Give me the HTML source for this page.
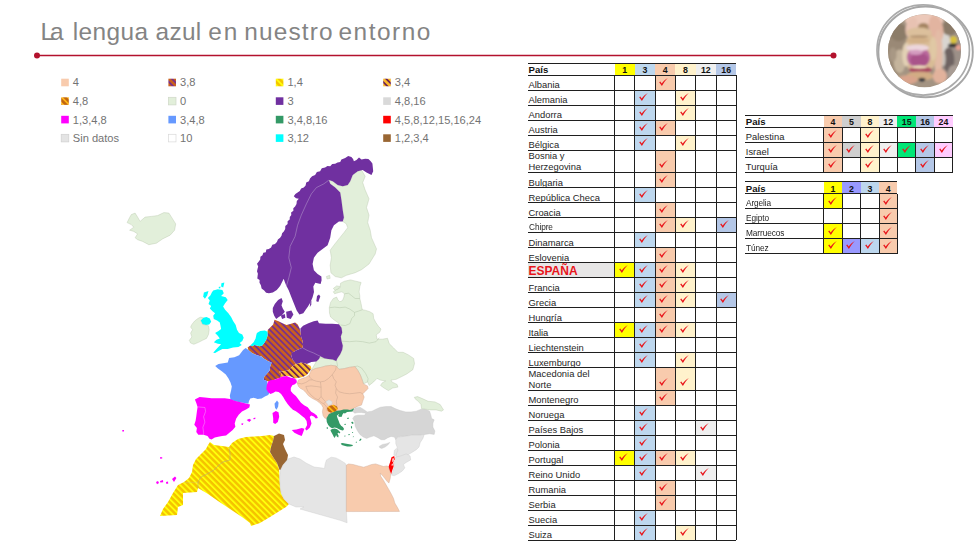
<!DOCTYPE html>
<html><head><meta charset="utf-8"><title>La lengua azul en nuestro entorno</title>
<style>
html,body{margin:0;padding:0;background:#fff;}
body{width:980px;height:551px;position:relative;overflow:hidden;font-family:"Liberation Sans",sans-serif;}
#title{position:absolute;left:0;top:16.9px;font-size:24.4px;line-height:30px;color:#848484;white-space:nowrap;font-weight:400;}
#title span{position:absolute;top:0;}
#bg{position:absolute;left:0;top:0;width:980px;height:551px;}
#bg text{font-family:"Liberation Sans",sans-serif;font-size:11.1px;fill:#737373;}
.tb{position:absolute;font-size:9.4px;color:#262626;}
.tb div{position:absolute;box-sizing:border-box;}
.hc{text-align:center;font-weight:bold;font-size:8.8px;line-height:14.4px;color:#111;}
.hn{font-weight:bold;font-size:9.6px;color:#111;}
.hl{left:0;width:100%;height:1px;background:#1f1f1f;}
.vl{width:1px;background:#1f1f1f;}
.rn{white-space:nowrap;overflow:visible;}
.rn span{position:absolute;left:0;bottom:0.1px;line-height:11px;display:block;}
.rn.dbl span{line-height:10.6px;bottom:0.2px;}
.rn.nar span{bottom:-0.4px;font-size:9.2px;transform:scaleX(0.9);transform-origin:0 50%;letter-spacing:-0.1px;}
.rn.esp span{font-weight:bold;color:#e8151b;font-size:12px;line-height:13px;bottom:-0.2px;}
.ckw{width:9px;height:8px;}
.ck{display:block;}
</style></head><body>
<svg id="bg" viewBox="0 0 980 551">
<defs><pattern id="h38" width="4.33" height="4.33" patternUnits="userSpaceOnUse" patternTransform="rotate(-45)"><rect width="4.33" height="4.33" fill="#c9601f"/><rect width="1.7" height="4.33" fill="#762f8e"/></pattern><pattern id="h14" width="4.33" height="4.33" patternUnits="userSpaceOnUse" patternTransform="rotate(-45)"><rect width="4.33" height="4.33" fill="#f4c300"/><rect width="1.85" height="4.33" fill="#ffff0a"/></pattern><pattern id="h34" width="4.33" height="4.33" patternUnits="userSpaceOnUse" patternTransform="rotate(-45)"><rect width="4.33" height="4.33" fill="#fbb829"/><rect width="1.65" height="4.33" fill="#6a1f55"/></pattern><pattern id="h48" width="4.33" height="4.33" patternUnits="userSpaceOnUse" patternTransform="rotate(-45)"><rect width="4.33" height="4.33" fill="#c2650f"/><rect width="1.7" height="4.33" fill="#fdb515"/></pattern></defs>
<g id="map">
<path d="M127.1,222.6 L129.6,217.6 L131.3,214.6 L135.1,213.1 L137.6,217.1 L140.1,221.4 L145.1,217.1 L151.4,216.4 L157.6,215.6 L163.9,212.6 L168.9,213.1 L172.6,218.9 L175.7,223.9 L174.6,230.2 L170.1,235.2 L162.6,238.9 L156.4,243.2 L148.8,244.7 L142.6,241.4 L137.6,239.7 L135.1,237.7 L137.6,233.9 L133.8,231.4 L129.6,230.2 L133.8,227.2 L131.3,224.6 Z" fill="#e2efda" stroke="#b5c6aa" stroke-width="0.4" stroke-linejoin="round"/>
<path d="M328.9,180.1 L332.7,181.3 L337.7,185.1 L342.7,186.3 L347.7,185.1 L350.2,181.3 L352.7,175.1 L357.7,171.3 L361.5,170.0 L365.2,176.3 L362.7,182.6 L365.2,190.1 L369.0,198.8 L366.5,207.6 L369.0,215.1 L367.7,222.6 L370.2,230.2 L371.5,237.7 L376.5,248.9 L375.2,254.0 L369.0,264.0 L361.5,269.7 L355.2,272.7 L346.4,275.3 L341.4,277.8 L335.2,276.5 L330.9,272.7 L330.2,265.2 L331.4,257.7 L330.2,250.2 L333.9,245.2 L338.9,238.9 L343.9,232.7 L347.7,227.7 L346.4,223.9 L342.7,221.4 L343.9,217.6 L342.7,210.1 L341.4,200.1 L340.2,192.6 L335.2,187.6 L330.2,183.8 Z" fill="#e2efda" stroke="#b5c6aa" stroke-width="0.4" stroke-linejoin="round"/>
<path d="M326.4,276.5 L329.6,275.3 L330.2,278.3 L327.1,279.0 Z" fill="#e2efda" stroke="#b5c6aa" stroke-width="0.4" stroke-linejoin="round"/>
<path d="M372.7,166.3 L372.4,163.5 L370.7,161.3 L368.4,159.0 L365.2,158.8 L361.5,159.5 L359.0,157.5 L356.5,160.0 L353.9,161.3 L353.1,158.9 L351.4,157.0 L348.2,156.0 L345.2,158.0 L341.4,159.5 L340.2,162.0 L337.5,162.4 L335.2,163.8 L332.2,164.1 L330.2,166.3 L327.4,165.9 L325.1,167.5 L321.8,168.3 L320.1,171.3 L316.9,172.1 L315.1,175.1 L312.1,176.3 L310.0,178.5 L308.9,181.3 L306.2,182.6 L305.6,185.5 L303.8,187.6 L301.1,188.4 L299.8,191.1 L297.6,192.6 L295.4,194.1 L293.8,196.3 L296.0,198.2 L298.8,198.8 L296.8,201.0 L296.5,203.9 L295.1,206.4 L293.3,208.2 L293.4,210.8 L291.1,212.5 L291.3,215.1 L289.8,217.1 L289.7,219.6 L287.6,221.3 L287.6,223.9 L285.3,225.9 L285.2,229.0 L283.8,231.4 L282.1,233.2 L281.5,235.7 L280.1,237.7 L277.9,239.4 L276.9,242.0 L275.0,243.9 L272.3,244.7 L271.1,247.6 L268.8,248.9 L266.3,249.6 L265.8,252.2 L263.3,252.8 L262.5,255.2 L260.4,256.8 L260.2,259.5 L258.8,261.5 L257.0,263.8 L258.2,266.5 L257.5,269.0 L257.0,271.3 L257.9,273.7 L257.6,276.0 L257.3,278.6 L259.6,280.0 L259.5,282.8 L260.9,285.3 L261.6,288.5 L264.2,290.6 L266.1,292.7 L268.9,293.3 L272.8,292.6 L276.8,289.9 L280.1,286.0 L282.1,282.0 L283.7,278.7 L284.8,282.0 L286.1,285.3 L288.8,290.6 L291.4,297.2 L294.1,303.9 L296.7,310.5 L299.4,314.5 L303.3,313.2 L306.0,309.2 L308.0,306.5 L310.6,301.9 L312.6,297.2 L314.0,291.9 L313.3,286.6 L315.3,282.7 L320.6,284.0 L321.6,280.3 L321.4,276.5 L317.6,274.0 L313.9,270.2 L312.6,264.0 L313.9,257.7 L317.6,252.7 L322.6,248.9 L327.6,245.2 L330.2,237.7 L331.4,230.2 L333.9,225.2 L338.9,221.4 L342.7,221.4 L343.9,217.6 L342.7,210.1 L341.4,200.1 L340.2,192.6 L335.2,187.6 L330.2,183.8 L328.9,180.1 L332.7,181.3 L337.7,185.1 L342.7,186.3 L347.7,185.1 L350.2,181.3 L352.7,175.1 L357.7,171.3 L362.7,170.0 L366.5,172.5 L371.5,175.1 L373.2,171.3 Z" fill="#7030a0"/>
<path d="M328.9,180.1 L323.9,183.8 L316.4,187.6 L311.4,193.8 L306.4,203.9 L301.3,215.1 L297.6,225.2 L295.1,236.4 L290.1,246.4 L288.8,257.7 L291.3,267.7 L288.8,277.8 L286.3,286.5" fill="none" stroke="#b9a0cf" stroke-width="0.5" stroke-linejoin="round"/>
<path d="M317.0,296.0 L319.0,294.6 L320.3,296.6 L318.3,301.9 L316.3,301.3 Z" fill="#7030a0"/>
<path d="M310.3,302.6 L311.4,300.6 L311.3,304.6 L309.7,307.2 Z" fill="#7030a0"/>
<path d="M274.8,303.9 L278.1,299.9 L281.5,297.9 L282.8,301.2 L281.5,305.2 L282.8,308.5 L284.8,311.8 L282.1,315.1 L278.8,317.1 L276.2,319.1 L274.2,315.8 L272.8,311.8 L272.8,307.9 Z" fill="#7030a0"/>
<path d="M280.8,315.5 L284.8,314.1 L285.4,317.8 L282.1,319.1 Z" fill="#7030a0"/>
<path d="M286.1,311.8 L291.4,310.5 L293.4,314.5 L290.7,319.1 L286.8,317.8 Z" fill="#7030a0"/>
<path d="M213.2,290.6 L217.8,289.3 L222.4,289.9 L223.8,293.3 L221.1,295.9 L225.8,297.2 L227.7,299.9 L225.1,303.2 L223.1,306.5 L225.1,309.8 L228.4,313.2 L231.1,317.1 L233.1,321.1 L235.7,325.1 L237.0,329.7 L239.0,333.1 L242.3,334.4 L243.7,337.7 L242.3,341.0 L239.7,343.0 L241.7,345.0 L238.4,347.0 L233.1,347.6 L227.7,349.0 L222.4,349.0 L218.5,351.0 L215.1,352.9 L213.2,352.7 L216.5,349.0 L219.1,346.3 L221.1,344.3 L217.8,343.7 L213.8,342.3 L216.5,339.7 L219.8,338.4 L217.8,335.7 L215.1,333.1 L218.5,331.1 L221.1,329.1 L220.5,325.8 L219.8,322.4 L217.1,320.5 L213.8,319.1 L213.2,315.8 L215.1,313.2 L212.5,311.2 L209.8,308.5 L211.2,305.9 L208.5,303.9 L209.8,300.6 L207.9,297.9 L210.5,295.3 L211.8,292.6 Z" fill="#00ffff"/>
<path d="M200.6,320.5 L203.2,317.8 L206.5,316.9 L209.8,318.5 L211.2,321.8 L209.2,324.4 L205.9,325.1 L202.5,324.4 Z" fill="#00ffff"/>
<path d="M203.9,292.6 L208.5,290.9 L207.2,295.6 L204.9,298.8 L203.2,296.6 Z" fill="#00ffff"/>
<path d="M221.4,283.3 L224.4,282.4 L223.2,287.4 L221.1,286.6 Z" fill="#00ffff"/>
<path d="M218.7,286.9 L220.5,286.6 L220.3,288.2 L218.9,288.4 Z" fill="#00ffff"/>
<path d="M191.9,324.4 L194.6,321.1 L197.9,318.5 L200.6,317.1 L203.2,317.8 L200.6,320.5 L202.5,324.4 L205.9,325.1 L208.5,325.8 L209.2,329.7 L208.5,334.4 L206.5,338.4 L202.5,340.3 L198.6,342.3 L193.9,344.3 L190.6,343.0 L189.3,340.3 L191.9,337.0 L190.6,333.1 L192.6,329.7 L190.6,327.1 Z" fill="#e2efda" stroke="#b5c6aa" stroke-width="0.4" stroke-linejoin="round"/>
<path d="M340.6,283.2 L344.5,281.2 L350.5,279.9 L355.8,281.2 L361.1,282.5 L359.8,286.5 L359.1,291.8 L359.8,295.8 L359.8,298.5 L361.1,303.8 L361.8,307.7 L362.4,309.7 L365.8,310.4 L369.7,311.7 L373.1,313.7 L373.7,318.4 L375.7,322.3 L378.4,326.3 L381.0,329.0 L379.7,332.3 L376.2,334.8 L377.0,339.2 L382.3,339.2 L387.5,338.3 L389.2,343.6 L393.6,347.9 L397.9,352.3 L403.2,352.3 L408.4,354.9 L413.6,358.4 L414.5,363.6 L412.8,369.7 L406.7,374.0 L401.4,376.7 L396.2,379.3 L391.0,380.1 L391.8,381.9 L397.1,384.5 L397.9,387.1 L392.7,388.0 L388.4,390.6 L384.0,388.0 L380.5,385.4 L382.3,382.8 L385.7,381.0 L380.5,380.1 L377.0,378.4 L373.6,381.9 L369.2,385.4 L367.5,381.9 L363.5,383.9 L362.2,379.9 L360.2,374.6 L357.5,369.9 L354.9,366.6 L349.6,367.3 L344.3,368.6 L339.0,369.3 L336.3,366.0 L331.0,365.3 L325.7,366.0 L321.1,367.3 L315.1,368.6 L311.1,370.6 L316.3,361.6 L319.0,359.0 L320.3,356.3 L324.3,358.3 L328.2,359.0 L332.9,359.6 L336.2,361.0 L337.5,358.3 L340.2,354.3 L342.2,349.7 L342.8,345.7 L341.5,341.1 L340.8,336.4 L342.2,332.4 L341.5,327.8 L338.9,324.2 L338.6,323.0 L334.6,320.3 L330.6,317.0 L329.5,313.1 L329.3,307.7 L330.6,302.4 L333.3,298.5 L336.6,297.1 L337.9,299.8 L339.9,301.8 L342.5,300.5 L343.9,297.1 L344.5,293.8 L341.9,291.8 L338.6,292.5 L334.6,293.8 L333.3,291.8 L335.9,289.8 L339.9,287.9 Z" fill="#e2efda" stroke="#b5c6aa" stroke-width="0.4" stroke-linejoin="round"/>
<path d="M344.5,293.8 L348.5,293.2 L351.8,295.8 L355.1,298.5 L359.8,298.5" fill="none" stroke="#b5c6aa" stroke-width="0.5" stroke-linejoin="round"/>
<path d="M329.5,307.7 L334.6,307.1 L339.9,307.7 L345.2,307.1 L349.8,309.1 L354.5,312.4 L358.5,311.1 L362.4,309.7" fill="none" stroke="#b5c6aa" stroke-width="0.5" stroke-linejoin="round"/>
<path d="M340.6,325.0 L345.2,325.6 L349.8,323.7 L351.8,318.4 L354.5,315.7 L354.5,312.4" fill="none" stroke="#b5c6aa" stroke-width="0.5" stroke-linejoin="round"/>
<path d="M341.5,341.1 L349.5,341.7 L356.1,341.1 L362.7,341.7 L369.4,343.1 L376.0,341.7 L379.3,337.7" fill="none" stroke="#b5c6aa" stroke-width="0.5" stroke-linejoin="round"/>
<path d="M354.9,366.6 L357.5,366.0 L361.5,368.0 L365.5,373.3 L368.1,378.6 L367.5,381.9" fill="none" stroke="#b5c6aa" stroke-width="0.5" stroke-linejoin="round"/>
<path d="M315.2,361.4 L319.0,357.7 L322.7,358.2 L330.2,358.9 L336.5,360.7 L337.7,366.4" fill="none" stroke="#b5c6aa" stroke-width="0.5" stroke-linejoin="round"/>
<path d="M333.3,288.5 L336.6,285.9 L339.9,286.5 L338.6,288.5 L335.3,290.2 Z" fill="#e2efda" stroke="#b5c6aa" stroke-width="0.4" stroke-linejoin="round"/>
<path d="M300.4,328.5 L303.1,325.8 L308.4,323.2 L313.7,321.2 L317.6,320.5 L319.0,323.2 L325.6,323.8 L332.2,323.8 L338.9,324.2 L341.5,327.8 L342.2,332.4 L340.8,336.4 L341.5,341.1 L342.8,345.7 L342.2,349.7 L340.2,354.3 L337.5,358.3 L336.2,361.0 L332.9,359.6 L328.2,359.0 L324.3,358.3 L320.3,356.3 L319.0,359.0 L316.3,361.6 L311.4,361.9 L306.7,363.9 L301.4,362.5 L296.1,363.9 L292.8,359.9 L291.5,356.6 L290.8,353.3 L293.8,351.7 L297.7,349.7 L302.4,347.7 L303.1,344.4 L302.4,340.4 L301.1,336.4 L300.4,332.4 Z" fill="#7030a0"/>
<path d="M302.4,347.7 L307.0,350.3 L310.3,351.7 L313.7,353.0 L317.6,355.0 L320.3,356.3" fill="none" stroke="#b9a0cf" stroke-width="0.5" stroke-linejoin="round"/>
<path d="M274.5,319.8 L278.5,321.2 L282.5,323.2 L286.5,325.1 L291.1,323.8 L295.1,322.5 L297.7,324.5 L299.7,328.5 L300.4,332.4 L301.1,336.4 L302.4,340.4 L303.1,344.4 L302.4,347.7 L297.7,349.7 L293.8,351.7 L291.1,353.7 L291.5,356.6 L292.8,359.9 L296.1,363.9 L292.8,365.9 L288.1,370.5 L282.8,371.2 L278.9,371.8 L281.5,373.8 L280.2,377.8 L276.2,379.1 L272.9,380.5 L269.6,381.8 L266.9,381.1 L263.6,379.8 L264.3,376.5 L266.9,373.8 L269.6,370.5 L270.2,366.5 L271.6,362.5 L268.2,361.2 L263.6,358.6 L261.6,356.6 L257.0,355.3 L252.3,353.3 L248.4,349.9 L247.6,347.6 L250.3,345.6 L252.3,346.3 L254.3,345.0 L256.9,345.6 L259.6,346.3 L262.2,345.6 L264.2,343.0 L266.2,339.7 L267.5,335.7 L267.5,331.7 L267.9,329.8 L269.9,327.8 L273.2,324.5 Z" fill="url(#h38)"/>
<path d="M256.9,333.1 L260.2,331.1 L264.9,330.4 L267.5,331.7 L267.5,335.7 L266.2,339.7 L264.2,343.0 L262.2,345.6 L259.6,346.3 L256.9,345.6 L254.3,345.0 L252.3,346.3 L250.3,345.6 L253.6,342.3 L255.6,338.4 L256.3,335.0 Z" fill="#00ffff"/>
<path d="M278.9,371.8 L282.8,371.2 L288.1,370.5 L292.8,365.9 L296.1,363.9 L301.4,362.5 L306.7,363.9 L310.7,365.9 L311.4,368.5 L309.4,371.8 L306.7,375.1 L302.7,377.1 L298.8,377.8 L294.8,378.5 L290.8,376.5 L286.8,375.8 L282.8,376.5 L280.2,377.8 L281.5,373.8 Z" fill="url(#h34)"/>
<path d="M215.2,365.9 L218.5,363.9 L223.2,363.2 L227.8,362.5 L229.1,357.9 L234.4,357.2 L239.1,355.3 L243.1,349.9 L245.7,348.0 L248.4,349.9 L252.3,353.3 L257.0,355.3 L261.6,356.6 L263.6,358.6 L268.2,361.2 L271.6,362.5 L270.2,366.5 L269.6,370.5 L266.9,373.8 L264.3,376.5 L263.6,379.8 L266.9,381.1 L267.6,385.1 L266.9,389.1 L269.6,392.4 L268.2,395.0 L264.9,396.4 L261.6,398.4 L257.6,399.0 L253.7,397.7 L250.3,398.4 L249.0,401.0 L248.4,403.7 L244.4,403.0 L239.1,402.3 L234.4,401.0 L230.5,399.7 L229.8,395.7 L231.1,390.4 L231.8,386.4 L230.5,382.4 L228.5,378.5 L225.8,374.5 L221.8,371.2 L217.9,368.5 Z" fill="#6699ff"/>
<path d="M274.5,403.7 L277.0,400.6 L278.6,402.7 L278.1,406.7 L276.5,409.8 L275.0,407.8 Z" fill="#6699ff"/>
<path d="M311.1,370.6 L315.1,368.6 L321.1,367.3 L325.7,366.0 L331.0,365.3 L336.3,366.0 L339.0,369.3 L344.3,368.6 L349.6,367.3 L354.9,366.6 L357.5,369.9 L360.2,374.6 L362.2,379.9 L363.5,383.9 L367.5,385.9 L368.1,388.5 L365.5,391.2 L362.8,393.8 L364.2,397.1 L362.8,401.1 L361.5,405.1 L357.5,406.4 L353.6,408.4 L349.6,409.7 L344.3,410.1 L340.3,410.8 L336.3,412.1 L332.3,413.4 L329.0,415.4 L327.0,417.7 L325.0,418.4 L323.1,415.7 L322.4,411.7 L323.1,407.7 L321.7,405.1 L319.1,402.4 L316.4,400.5 L312.4,398.5 L308.5,395.8 L305.8,392.5 L303.2,389.8 L300.5,388.5 L298.5,386.5 L297.2,383.2 L298.5,379.9 L301.8,378.6 L305.8,377.2 L309.1,375.3 Z" fill="#f8cbad" stroke="#c9a58f" stroke-width="0.4" stroke-linejoin="round"/>
<path d="M309.1,375.3 L309.8,377.2 L312.4,379.9 L316.4,381.2 L320.4,381.9 L324.4,381.2 L328.4,378.6 L332.3,374.6 L335.6,369.9 L336.3,366.0" fill="none" stroke="#c9a58f" stroke-width="0.5" stroke-linejoin="round"/>
<path d="M332.3,374.6 L333.7,378.6 L336.3,381.9 L335.0,385.2 L336.3,388.5 L339.0,391.8 L344.3,393.2 L349.6,393.8 L354.9,393.2 L360.2,392.5 L362.8,393.8" fill="none" stroke="#c9a58f" stroke-width="0.5" stroke-linejoin="round"/>
<path d="M297.2,383.2 L301.8,383.9 L305.8,382.5 L309.8,379.9 L312.4,379.9" fill="none" stroke="#c9a58f" stroke-width="0.5" stroke-linejoin="round"/>
<path d="M305.8,386.5 L311.1,385.9 L316.4,386.5 L321.1,387.2 L320.4,381.9" fill="none" stroke="#c9a58f" stroke-width="0.5" stroke-linejoin="round"/>
<path d="M305.8,386.5 L307.8,391.2 L311.1,395.1 L315.1,398.5 L318.4,399.8 L321.1,396.5 L321.1,391.8 L321.1,387.2" fill="none" stroke="#c9a58f" stroke-width="0.5" stroke-linejoin="round"/>
<path d="M318.4,399.8 L321.1,402.4 L323.7,403.8 L325.7,401.8 L323.1,399.1 L321.1,396.5" fill="none" stroke="#c9a58f" stroke-width="0.5" stroke-linejoin="round"/>
<path d="M336.3,388.5 L335.6,393.2 L337.6,397.1 L336.3,401.1 L337.0,406.4" fill="none" stroke="#c9a58f" stroke-width="0.5" stroke-linejoin="round"/>
<path d="M323.7,403.8 L325.7,405.8 L327.0,407.7 L327.0,411.1" fill="none" stroke="#c9a58f" stroke-width="0.5" stroke-linejoin="round"/>
<path d="M325.7,401.8 L329.0,399.8 L332.3,401.8 L331.7,404.4 L328.4,405.4 Z" fill="#e5e5e5" stroke="#c9c9c9" stroke-width="0.4" stroke-linejoin="round"/>
<path d="M327.0,408.0 L329.0,405.9 L333.7,404.8 L337.0,406.4 L337.9,409.1 L335.3,411.7 L331.0,412.8 L327.8,411.2 Z" fill="url(#h48)"/>
<path d="M267.9,381.7 L270.4,380.2 L274.5,379.7 L278.6,378.2 L282.7,376.6 L286.7,376.1 L290.8,377.7 L293.9,378.2 L296.4,379.7 L296.9,382.2 L294.9,384.3 L292.3,385.3 L290.8,387.9 L290.8,390.9 L292.9,393.5 L295.9,396.0 L298.5,399.6 L301.0,402.7 L304.1,405.2 L307.7,407.2 L309.2,409.3 L311.2,411.8 L314.3,413.4 L316.8,415.4 L317.9,418.0 L315.8,418.6 L313.8,416.4 L311.2,415.4 L309.7,416.9 L310.7,420.0 L311.5,423.6 L309.7,427.7 L306.6,430.4 L305.1,429.0 L307.1,425.1 L306.6,421.0 L304.6,418.0 L302.0,415.9 L299.0,413.4 L295.9,411.3 L292.9,409.8 L290.3,407.2 L287.8,404.2 L285.2,400.6 L283.2,397.0 L281.1,394.0 L278.6,391.9 L275.5,391.4 L273.0,393.0 L270.4,394.0 L267.9,391.9 L266.3,388.9 L266.8,385.3 Z" fill="#ff00ff"/>
<path d="M272.5,412.9 L275.8,410.9 L278.5,412.2 L279.2,416.8 L277.8,422.1 L275.2,424.1 L273.2,422.8 L273.2,418.2 Z" fill="#ff00ff"/>
<path d="M291.8,430.1 L296.4,429.4 L301.7,428.1 L304.4,428.8 L303.0,432.7 L301.7,436.1 L298.4,434.7 L294.4,432.7 Z" fill="#ff00ff"/>
<path d="M194.9,399.6 L199.6,396.9 L204.9,397.6 L211.5,398.3 L218.2,398.3 L224.8,398.3 L230.1,398.9 L235.4,400.9 L240.7,402.2 L246.0,403.6 L250.0,404.6 L249.3,407.5 L246.0,409.5 L242.0,411.5 L238.7,414.8 L236.1,418.8 L234.7,423.5 L235.4,426.8 L232.7,430.1 L229.4,432.7 L226.1,435.4 L222.1,436.1 L218.2,436.7 L214.8,437.4 L211.5,439.4 L209.5,438.7 L207.5,436.1 L203.6,434.7 L198.3,434.7 L196.3,432.1 L196.9,428.1 L194.3,424.8 L195.6,420.8 L196.3,416.2 L196.9,411.5 L197.6,406.9 L196.3,402.9 Z" fill="#ff00ff"/>
<path d="M197.6,406.9 L204.9,407.5 L205.6,411.5 L203.6,416.8 L204.9,422.1 L202.9,427.4 L203.6,432.7 L203.6,434.7" fill="none" stroke="#f2a6f2" stroke-width="0.5" stroke-linejoin="round"/>
<path d="M246.7,420.1 L249.3,418.8 L251.3,420.1 L249.3,422.1 Z" fill="#ff00ff"/>
<path d="M253.3,418.2 L255.3,417.5 L255.4,419.0 L253.6,419.2 Z" fill="#ff00ff"/>
<path d="M241.4,423.5 L243.4,423.2 L242.8,424.9 L241.5,424.8 Z" fill="#ff00ff"/>
<path d="M156.0,482.0 L158.0,481.0 L159.0,483.0 L157.0,484.2 Z" fill="#ff00ff"/>
<path d="M160.0,481.0 L163.0,480.0 L163.2,482.2 L160.4,482.6 Z" fill="#ff00ff"/>
<path d="M166.0,482.0 L168.0,481.6 L168.2,483.8 L166.2,483.8 Z" fill="#ff00ff"/>
<path d="M172.0,479.0 L175.0,476.6 L176.4,478.0 L174.0,482.0 Z" fill="#ff00ff"/>
<path d="M160.0,457.2 L162.2,457.2 L162.2,458.6 L160.0,458.6 Z" fill="#ff00ff"/>
<path d="M122.3,430.1 L124.0,430.1 L124.0,431.6 L122.3,431.6 Z" fill="#ff00ff"/>
<path d="M210.0,442.0 L214.0,445.0 L222.0,446.0 L229.0,447.0 L232.0,443.0 L238.0,439.0 L246.0,437.0 L254.0,436.6 L262.0,436.0 L270.0,435.0 L274.0,436.0 L273.0,441.0 L271.0,447.0 L270.0,452.0 L273.0,457.0 L277.0,463.0 L279.0,469.0 L279.6,477.0 L280.0,485.0 L281.0,493.0 L284.0,499.0 L289.0,504.0 L286.0,507.0 L278.0,512.0 L270.0,517.0 L260.0,523.0 L251.0,526.0 L250.0,523.0 L242.0,517.0 L230.0,509.0 L218.0,501.0 L208.0,494.0 L198.0,488.0 L197.0,492.0 L183.0,493.0 L183.0,505.0 L178.0,507.0 L177.0,515.0 L160.0,516.0 L163.0,509.0 L168.0,502.0 L173.0,493.0 L178.0,485.0 L184.0,482.0 L189.0,478.0 L192.0,472.0 L193.0,465.0 L196.0,459.0 L201.0,454.0 L206.0,449.0 L208.0,445.0 Z" fill="url(#h14)"/>
<path d="M229.0,447.0 L230.0,453.0 L230.0,460.0 L223.0,462.0 L219.0,465.0 L214.0,470.0 L207.0,474.0 L201.0,477.0 L198.0,482.0 L198.0,488.0" fill="none" stroke="#b5a777" stroke-width="0.6" stroke-linejoin="round"/>
<path d="M184.0,482.4 L198.0,482.4" fill="none" stroke="#d9c46a" stroke-width="0.4" stroke-linejoin="round"/>
<path d="M274.0,436.0 L279.0,433.4 L284.0,435.0 L285.0,440.0 L283.0,444.0 L285.0,449.0 L288.0,455.0 L287.0,461.0 L283.0,465.0 L281.0,470.0 L279.6,470.0 L277.0,463.0 L273.0,457.0 L270.0,452.0 L271.0,447.0 L273.0,441.0 Z" fill="#996633"/>
<path d="M280.4,470.0 L283.0,465.0 L288.0,459.0 L294.0,457.0 L300.0,459.0 L306.0,463.0 L314.0,467.0 L322.0,468.0 L324.5,468.5 L325.2,463.9 L326.5,459.9 L331.2,457.2 L335.8,457.9 L339.8,459.9 L345.1,463.2 L346.4,465.2 L346.4,511.6 L347.1,522.8 L340.1,520.3 L300.0,509.0 L304.0,507.0 L296.0,507.0 L289.0,504.0 L284.0,499.0 L281.0,493.0 L280.0,485.0 L279.6,477.0 Z" fill="#e5e5e5" stroke="#c9c9c9" stroke-width="0.4" stroke-linejoin="round"/>
<path d="M346.4,465.2 L348.4,463.9 L353.1,464.5 L358.4,465.9 L363.7,467.2 L367.6,465.9 L371.6,464.5 L375.6,463.9 L379.6,465.2 L383.6,466.5 L386.9,465.9 L388.2,466.5 L390.8,473.8 L390.2,478.5 L388.9,483.1 L386.9,481.1 L384.9,478.5 L382.2,475.1 L380.2,473.2 L380.9,476.5 L383.6,480.5 L386.2,485.1 L388.9,489.7 L391.5,494.4 L393.5,498.4 L394.8,503.0 L397.5,507.6 L399.5,511.4 L346.4,511.6 Z" fill="#f8cbad" stroke="#c9a58f" stroke-width="0.4" stroke-linejoin="round"/>
<path d="M326.4,418.6 L327.5,416.4 L328.9,413.9 L331.4,412.9 L334.3,411.8 L337.1,410.7 L340.0,410.4 L343.6,409.6 L347.1,409.6 L350.0,410.0 L352.1,409.3 L353.6,408.2 L353.9,410.0 L352.5,411.4 L350.0,411.8 L347.1,412.1 L345.0,413.6 L343.6,412.9 L342.5,414.6 L341.8,416.4 L340.9,417.0 L340.0,415.4 L338.6,414.3 L336.8,415.7 L337.5,417.9 L338.6,420.7 L339.6,423.6 L341.1,425.7 L342.9,427.1 L344.1,428.9 L343.0,430.4 L340.7,430.0 L338.6,428.9 L336.8,427.9 L334.6,427.5 L332.1,428.2 L330.0,427.1 L328.2,425.0 L326.8,422.1 Z" fill="#339966"/>
<path d="M330.4,430.0 L332.1,428.9 L334.6,428.6 L337.1,429.3 L338.9,430.7 L340.4,432.5 L339.3,433.6 L338.2,432.5 L337.5,433.6 L338.6,435.7 L338.2,437.5 L336.8,436.4 L336.1,435.0 L335.4,436.4 L334.6,437.9 L333.6,436.4 L332.9,435.0 L332.1,433.6 L331.1,431.8 Z" fill="#339966"/>
<path d="M340.7,443.6 L342.5,442.9 L345.0,443.6 L347.9,443.9 L350.7,444.6 L352.9,445.0 L352.5,446.1 L350.0,446.4 L347.1,446.6 L344.3,445.7 L341.8,445.0 Z" fill="#339966"/>
<path d="M359.3,440.0 L360.7,438.6 L361.6,438.9 L360.4,440.7 L359.4,441.1 Z" fill="#339966"/>
<path d="M351.1,422.1 L352.9,421.8 L353.7,423.2 L352.1,423.9 Z" fill="#339966"/>
<path d="M350.9,426.4 L352.0,426.1 L352.1,428.2 L351.1,428.4 Z" fill="#339966"/>
<path d="M347.1,417.9 L348.6,417.6 L348.7,418.9 L347.4,419.1 Z" fill="#339966"/>
<path d="M344.4,423.9 L345.7,423.7 L345.7,424.9 L344.6,425.0 Z" fill="#339966"/>
<path d="M348.4,434.1 L349.7,433.9 L349.7,435.1 L348.6,435.3 Z" fill="#339966"/>
<path d="M338.2,415.0 L341.4,414.4 L341.8,416.1 L340.0,417.0 L338.6,416.4 Z" fill="#339966"/>
<path d="M326.6,427.5 L327.7,427.1 L327.9,428.7 L326.9,429.0 Z" fill="#339966"/>
<path d="M344.3,435.7 L345.4,435.6 L345.4,436.6 L344.4,436.6 Z" fill="#339966"/>
<path d="M352.1,432.1 L353.0,432.0 L353.1,433.0 L352.3,433.0 Z" fill="#339966"/>
<path d="M355.7,442.1 L356.6,441.6 L356.8,442.5 L356.0,443.0 Z" fill="#339966"/>
<path d="M352.9,436.4 L353.7,436.3 L353.7,437.1 L352.9,437.2 Z" fill="#339966"/>
<path d="M352.7,411.2 L355.3,407.9 L359.9,407.2 L363.3,409.2 L367.2,411.9 L371.9,411.2 L375.9,409.2 L380.5,407.2 L385.8,406.6 L391.1,406.6 L395.1,408.6 L400.4,410.6 L405.7,411.9 L411.0,411.9 L416.3,411.2 L421.0,409.2 L425.6,409.2 L429.6,411.2 L430.9,415.2 L431.6,418.5 L434.2,419.8 L432.9,423.2 L432.9,427.1 L434.9,431.1 L434.2,434.4 L429.6,433.8 L424.9,434.4 L420.3,435.1 L416.3,435.8 L412.3,435.1 L408.4,435.8 L404.4,436.4 L400.4,436.4 L397.7,437.1 L395.8,439.7 L394.4,437.1 L391.1,436.4 L387.8,437.7 L384.5,439.7 L381.2,439.7 L377.9,437.7 L373.9,435.8 L369.9,437.1 L366.6,438.4 L363.3,437.1 L359.9,434.4 L357.3,430.5 L355.3,426.5 L354.6,421.8 L352.7,418.5 L354.6,415.9 L358.0,415.2 L364.6,415.2 L365.9,413.2 L361.3,412.5 L358.0,412.5 L354.6,413.2 Z" fill="#d6d6d6" stroke="#c4c4c4" stroke-width="0.4" stroke-linejoin="round"/>
<path d="M379.2,446.4 L382.5,444.4 L386.5,443.7 L389.8,442.4 L387.8,445.0 L385.1,447.0 L381.8,448.4 L379.8,447.7 Z" fill="#d6d6d6" stroke="#c4c4c4" stroke-width="0.4" stroke-linejoin="round"/>
<path d="M414.3,397.3 L417.6,396.6 L422.3,398.6 L428.2,401.3 L434.9,401.9 L440.2,404.6 L443.5,409.9 L441.5,411.2 L436.2,409.9 L430.9,409.9 L425.6,409.2 L421.6,408.6 L421.0,404.6 L418.3,401.3 L415.6,399.3 Z" fill="#e2efda" stroke="#b5c6aa" stroke-width="0.4" stroke-linejoin="round"/>
<path d="M395.8,439.7 L397.7,437.1 L404.4,436.4 L412.3,435.1 L420.3,435.1 L424.3,434.4 L422.9,438.4 L420.3,442.4 L419.0,447.0 L416.3,449.7 L411.0,453.0 L405.7,456.3 L401.1,459.0 L398.4,460.3 L396.4,457.6 L395.8,453.7 L397.7,450.3 L397.1,447.0 L395.8,443.7 Z" fill="#e5e5e5" stroke="#c9c9c9" stroke-width="0.4" stroke-linejoin="round"/>
<path d="M394.4,450.3 L396.4,448.4 L398.0,449.7 L396.4,453.7 L395.1,456.3 L393.8,455.0 Z" fill="#e5e5e5" stroke="#c9c9c9" stroke-width="0.4" stroke-linejoin="round"/>
<path d="M395.5,457.2 L400.8,455.9 L406.1,453.9 L410.1,455.9 L410.7,459.9 L406.1,462.5 L403.4,464.5 L404.8,467.9 L402.1,471.2 L398.1,473.8 L394.2,475.8 L391.5,475.1 L392.8,471.2 L394.4,466.5 L393.9,462.5 L395.5,459.9 Z" fill="#e5e5e5" stroke="#c9c9c9" stroke-width="0.4" stroke-linejoin="round"/>
<path d="M391.5,457.2 L394.2,455.9 L394.8,459.2 L393.1,462.5 L393.6,466.5 L392.2,470.5 L391.2,474.1 L389.5,469.8 L388.6,466.5 L390.2,461.9 Z" fill="#ff0000"/>
<path d="M392.4,458.6 L393.9,458.3 L393.6,461.2 L392.3,462.0 Z" fill="#ffffff"/>
<path d="M391.8,463.9 L392.8,463.6 L392.7,465.5 L391.6,465.7 Z" fill="#ffffff"/>
</g>
<g id="legend">
<rect x="61.2" y="78.7" width="7.6" height="7.6" fill="#f8cbad"/>
<text x="72.8" y="86.4">4</text>
<rect x="168.4" y="78.7" width="7.6" height="7.6" fill="url(#h38)"/>
<text x="180.0" y="86.4">3,8</text>
<rect x="275.8" y="78.7" width="7.6" height="7.6" fill="url(#h14)"/>
<text x="287.4" y="86.4">1,4</text>
<rect x="383.2" y="78.7" width="7.6" height="7.6" fill="url(#h34)"/>
<text x="394.8" y="86.4">3,4</text>
<rect x="61.2" y="97.3" width="7.6" height="7.6" fill="url(#h48)"/>
<text x="72.8" y="105.0">4,8</text>
<rect x="168.4" y="97.3" width="7.6" height="7.6" fill="#e2efda" stroke="#cfd8c8" stroke-width="0.7"/>
<text x="180.0" y="105.0">0</text>
<rect x="275.8" y="97.3" width="7.6" height="7.6" fill="#7030a0"/>
<text x="287.4" y="105.0">3</text>
<rect x="383.2" y="97.3" width="7.6" height="7.6" fill="#d9d9d9"/>
<text x="394.8" y="105.0">4,8,16</text>
<rect x="61.2" y="115.8" width="7.6" height="7.6" fill="#ff00ff"/>
<text x="72.8" y="123.5">1,3,4,8</text>
<rect x="168.4" y="115.8" width="7.6" height="7.6" fill="#6699ff"/>
<text x="180.0" y="123.5">3,4,8</text>
<rect x="275.8" y="115.8" width="7.6" height="7.6" fill="#339966"/>
<text x="287.4" y="123.5">3,4,8,16</text>
<rect x="383.2" y="115.8" width="7.6" height="7.6" fill="#ff0000"/>
<text x="394.8" y="123.5">4,5,8,12,15,16,24</text>
<rect x="61.2" y="134.3" width="7.6" height="7.6" fill="#e4e4e4" stroke="#d0d0d0" stroke-width="0.7"/>
<text x="72.8" y="142.0">Sin datos</text>
<rect x="168.4" y="134.3" width="7.6" height="7.6" fill="#ffffff" stroke="#d9d9d9" stroke-width="0.7"/>
<text x="180.0" y="142.0">10</text>
<rect x="275.8" y="134.3" width="7.6" height="7.6" fill="#00ffff"/>
<text x="287.4" y="142.0">3,12</text>
<rect x="383.2" y="134.3" width="7.6" height="7.6" fill="#996633"/>
<text x="394.8" y="142.0">1,2,3,4</text>
</g>
<line x1="37" y1="55.4" x2="833" y2="55.4" stroke="#b3122d" stroke-width="1.5"/>
<circle cx="37" cy="55.4" r="3" fill="#b3122d"/>
<circle cx="833.5" cy="55.4" r="3" fill="#b3122d"/>
<g id="photo">
<defs><clipPath id="pc"><circle cx="924.5" cy="50.8" r="36.5"/></clipPath><filter id="bl" x="-20%" y="-20%" width="140%" height="140%"><feGaussianBlur stdDeviation="1.05"/></filter></defs>
<ellipse cx="925.6" cy="51.9" rx="47.2" ry="45.4" fill="#fff" stroke="#a6a6a6" stroke-width="1.9"/>
<ellipse cx="923.2" cy="50.0" rx="46.2" ry="45.2" fill="none" stroke="#ababab" stroke-width="1.7"/>
<g clip-path="url(#pc)">
<rect x="885" y="12" width="80" height="78" fill="#a39382"/>
<g filter="url(#bl)">
<ellipse cx="895.9" cy="48.7" rx="10.4" ry="29.8" fill="#9a8976"/>
<ellipse cx="898.9" cy="32.3" rx="8.9" ry="8.9" fill="#8c7c68"/>
<ellipse cx="899.6" cy="61.3" rx="6.0" ry="11.9" fill="#c4b49c"/>
<ellipse cx="892.9" cy="54.6" rx="3.7" ry="7.4" fill="#a89884"/>
<ellipse cx="901.9" cy="79.9" rx="8.9" ry="6.0" fill="#b09c86"/>
<ellipse cx="952.5" cy="54.6" rx="13.4" ry="32.7" fill="#9c9088"/>
<ellipse cx="944.3" cy="44.2" rx="6.0" ry="14.9" fill="#d9d5d0"/>
<ellipse cx="949.5" cy="27.9" rx="7.4" ry="7.4" fill="#8a7a68"/>
<ellipse cx="948.7" cy="59.9" rx="5.7" ry="12.6" fill="#6e6462"/>
<ellipse cx="953.9" cy="72.5" rx="6.0" ry="7.4" fill="#a89c94"/>
<ellipse cx="943.5" cy="59.1" rx="2.2" ry="7.4" fill="#c9c2bb"/>
<ellipse cx="924.2" cy="20.4" rx="19.3" ry="7.4" fill="#ecc9ba"/>
<ellipse cx="911.5" cy="27.1" rx="5.7" ry="10.4" fill="#e8c2b2" transform="rotate(15 911.5 27.1)"/>
<ellipse cx="936.1" cy="28.6" rx="7.1" ry="13.4" fill="#e2b4a0" transform="rotate(-12 936.1 28.6)"/>
<ellipse cx="938.3" cy="54.6" rx="4.2" ry="25.3" fill="#e3bba6"/>
<ellipse cx="920.5" cy="52.4" rx="16.1" ry="24.6" fill="#d9bc96"/>
<ellipse cx="923.4" cy="26.4" rx="5.2" ry="3.3" fill="#a48462"/>
<ellipse cx="919.0" cy="32.3" rx="12.6" ry="4.8" fill="#dcc09c"/>
<ellipse cx="919.0" cy="36.5" rx="9.2" ry="1.0" fill="#a88868"/>
<ellipse cx="918.2" cy="40.5" rx="11.2" ry="3.0" fill="#d2b088"/>
<ellipse cx="906.3" cy="54.6" rx="4.2" ry="11.9" fill="#e2d0b4"/>
<ellipse cx="933.1" cy="48.7" rx="3.7" ry="11.9" fill="#e0c8a4"/>
<ellipse cx="918.5" cy="57.3" rx="11.6" ry="10.7" fill="#b9689c"/>
<ellipse cx="917.5" cy="47.9" rx="11.6" ry="3.3" fill="#ecd6dc"/>
<ellipse cx="919.4" cy="59.9" rx="9.2" ry="7.1" fill="#a9538a"/>
<ellipse cx="916.0" cy="52.4" rx="6.7" ry="2.7" fill="#d49cc0"/>
<ellipse cx="920.5" cy="69.8" rx="11.6" ry="3.3" fill="#a84a62"/>
<ellipse cx="919.4" cy="67.0" rx="7.7" ry="1.5" fill="#f2e4c0"/>
<ellipse cx="919.7" cy="76.2" rx="13.4" ry="4.8" fill="#d2ac84"/>
<ellipse cx="939.8" cy="76.2" rx="7.1" ry="7.4" fill="#e2b29c"/>
<ellipse cx="907.8" cy="79.9" rx="9.7" ry="4.5" fill="#d9a48c"/>
<ellipse cx="921.9" cy="79.6" rx="3.6" ry="1.8" fill="#34383e"/>
<ellipse cx="953.5" cy="39.8" rx="3.6" ry="3.9" fill="#d9c23c"/>
<ellipse cx="953.2" cy="45.4" rx="5.4" ry="1.8" fill="#2e2e2e"/>
<ellipse cx="958.4" cy="47.5" rx="2.7" ry="2.7" fill="#e8a090"/>
</g></g>
</g>
</svg>
<div id="title"><span style="left:40.5px;letter-spacing:-4.00px">La</span> <span style="left:72.7px;letter-spacing:0.44px">lengua</span> <span style="left:155.5px;letter-spacing:0.33px">azul</span> <span style="left:208.3px;letter-spacing:2.00px">en</span> <span style="left:244.3px;letter-spacing:1.17px">nuestro</span> <span style="left:338.5px;letter-spacing:1.53px">entorno</span></div>
<div class="tb" style="left:527.5px;top:63.3px;width:208.8px;height:477.0px">
<div class="hc" style="left:87.00px;top:0;width:20.30px;height:12px;background:#ffff00">1</div>
<div class="hc" style="left:107.30px;top:0;width:20.30px;height:12px;background:#bdd7ee">3</div>
<div class="hc" style="left:127.60px;top:0;width:20.30px;height:12px;background:#f8cbad">4</div>
<div class="hc" style="left:147.90px;top:0;width:20.30px;height:12px;background:#fff2cc">8</div>
<div class="hc" style="left:168.20px;top:0;width:20.30px;height:12px;background:#efefef">12</div>
<div class="hc" style="left:188.50px;top:0;width:20.30px;height:12px;background:#b4c7e7">16</div>
<div class="hn" style="left:1px;top:0;height:12px;line-height:14px">País</div>
<div class="cf" style="left:127.60px;top:12.00px;width:20.30px;height:15.0px;background:#f8cbad"></div>
<div class="ckw" style="left:131.80px;top:14.70px"><svg class="ck" viewBox="0 0 9 8" width="9" height="8"><path d="M0.2,4.3 L1.3,3.5 L2.7,5.6 C4.2,3.4 6.2,1.4 8.8,0 C6.6,2.2 4.4,5.2 2.9,8 Z" fill="#e8151b"/></svg></div>
<div class="rn " style="left:1px;top:12.00px;height:15.0px;width:85px"><span>Albania</span></div>
<div class="cf" style="left:107.30px;top:27.00px;width:20.30px;height:15.0px;background:#bdd7ee"></div>
<div class="ckw" style="left:111.50px;top:29.70px"><svg class="ck" viewBox="0 0 9 8" width="9" height="8"><path d="M0.2,4.3 L1.3,3.5 L2.7,5.6 C4.2,3.4 6.2,1.4 8.8,0 C6.6,2.2 4.4,5.2 2.9,8 Z" fill="#e8151b"/></svg></div>
<div class="cf" style="left:147.90px;top:27.00px;width:20.30px;height:15.0px;background:#fff2cc"></div>
<div class="ckw" style="left:152.10px;top:29.70px"><svg class="ck" viewBox="0 0 9 8" width="9" height="8"><path d="M0.2,4.3 L1.3,3.5 L2.7,5.6 C4.2,3.4 6.2,1.4 8.8,0 C6.6,2.2 4.4,5.2 2.9,8 Z" fill="#e8151b"/></svg></div>
<div class="rn " style="left:1px;top:27.00px;height:15.0px;width:85px"><span>Alemania</span></div>
<div class="cf" style="left:107.30px;top:42.00px;width:20.30px;height:15.0px;background:#bdd7ee"></div>
<div class="ckw" style="left:111.50px;top:44.70px"><svg class="ck" viewBox="0 0 9 8" width="9" height="8"><path d="M0.2,4.3 L1.3,3.5 L2.7,5.6 C4.2,3.4 6.2,1.4 8.8,0 C6.6,2.2 4.4,5.2 2.9,8 Z" fill="#e8151b"/></svg></div>
<div class="cf" style="left:147.90px;top:42.00px;width:20.30px;height:15.0px;background:#fff2cc"></div>
<div class="ckw" style="left:152.10px;top:44.70px"><svg class="ck" viewBox="0 0 9 8" width="9" height="8"><path d="M0.2,4.3 L1.3,3.5 L2.7,5.6 C4.2,3.4 6.2,1.4 8.8,0 C6.6,2.2 4.4,5.2 2.9,8 Z" fill="#e8151b"/></svg></div>
<div class="rn " style="left:1px;top:42.00px;height:15.0px;width:85px"><span>Andorra</span></div>
<div class="cf" style="left:107.30px;top:57.00px;width:20.30px;height:15.0px;background:#bdd7ee"></div>
<div class="ckw" style="left:111.50px;top:59.70px"><svg class="ck" viewBox="0 0 9 8" width="9" height="8"><path d="M0.2,4.3 L1.3,3.5 L2.7,5.6 C4.2,3.4 6.2,1.4 8.8,0 C6.6,2.2 4.4,5.2 2.9,8 Z" fill="#e8151b"/></svg></div>
<div class="cf" style="left:127.60px;top:57.00px;width:20.30px;height:15.0px;background:#f8cbad"></div>
<div class="ckw" style="left:131.80px;top:59.70px"><svg class="ck" viewBox="0 0 9 8" width="9" height="8"><path d="M0.2,4.3 L1.3,3.5 L2.7,5.6 C4.2,3.4 6.2,1.4 8.8,0 C6.6,2.2 4.4,5.2 2.9,8 Z" fill="#e8151b"/></svg></div>
<div class="rn " style="left:1px;top:57.00px;height:15.0px;width:85px"><span>Austria</span></div>
<div class="cf" style="left:107.30px;top:72.00px;width:20.30px;height:15.0px;background:#bdd7ee"></div>
<div class="ckw" style="left:111.50px;top:74.70px"><svg class="ck" viewBox="0 0 9 8" width="9" height="8"><path d="M0.2,4.3 L1.3,3.5 L2.7,5.6 C4.2,3.4 6.2,1.4 8.8,0 C6.6,2.2 4.4,5.2 2.9,8 Z" fill="#e8151b"/></svg></div>
<div class="cf" style="left:147.90px;top:72.00px;width:20.30px;height:15.0px;background:#fff2cc"></div>
<div class="ckw" style="left:152.10px;top:74.70px"><svg class="ck" viewBox="0 0 9 8" width="9" height="8"><path d="M0.2,4.3 L1.3,3.5 L2.7,5.6 C4.2,3.4 6.2,1.4 8.8,0 C6.6,2.2 4.4,5.2 2.9,8 Z" fill="#e8151b"/></svg></div>
<div class="rn " style="left:1px;top:72.00px;height:15.0px;width:85px"><span>Bélgica</span></div>
<div class="cf" style="left:127.60px;top:87.00px;width:20.30px;height:22.5px;background:#f8cbad"></div>
<div class="ckw" style="left:131.80px;top:97.20px"><svg class="ck" viewBox="0 0 9 8" width="9" height="8"><path d="M0.2,4.3 L1.3,3.5 L2.7,5.6 C4.2,3.4 6.2,1.4 8.8,0 C6.6,2.2 4.4,5.2 2.9,8 Z" fill="#e8151b"/></svg></div>
<div class="rn dbl" style="left:1px;top:87.00px;height:22.5px;width:85px"><span>Bosnia y<br>Herzegovina</span></div>
<div class="cf" style="left:127.60px;top:109.50px;width:20.30px;height:15.0px;background:#f8cbad"></div>
<div class="ckw" style="left:131.80px;top:112.20px"><svg class="ck" viewBox="0 0 9 8" width="9" height="8"><path d="M0.2,4.3 L1.3,3.5 L2.7,5.6 C4.2,3.4 6.2,1.4 8.8,0 C6.6,2.2 4.4,5.2 2.9,8 Z" fill="#e8151b"/></svg></div>
<div class="rn " style="left:1px;top:109.50px;height:15.0px;width:85px"><span>Bulgaria</span></div>
<div class="cf" style="left:107.30px;top:124.50px;width:20.30px;height:15.0px;background:#bdd7ee"></div>
<div class="ckw" style="left:111.50px;top:127.20px"><svg class="ck" viewBox="0 0 9 8" width="9" height="8"><path d="M0.2,4.3 L1.3,3.5 L2.7,5.6 C4.2,3.4 6.2,1.4 8.8,0 C6.6,2.2 4.4,5.2 2.9,8 Z" fill="#e8151b"/></svg></div>
<div class="rn " style="left:1px;top:124.50px;height:15.0px;width:85px"><span>República Checa</span></div>
<div class="cf" style="left:127.60px;top:139.50px;width:20.30px;height:15.0px;background:#f8cbad"></div>
<div class="ckw" style="left:131.80px;top:142.20px"><svg class="ck" viewBox="0 0 9 8" width="9" height="8"><path d="M0.2,4.3 L1.3,3.5 L2.7,5.6 C4.2,3.4 6.2,1.4 8.8,0 C6.6,2.2 4.4,5.2 2.9,8 Z" fill="#e8151b"/></svg></div>
<div class="rn " style="left:1px;top:139.50px;height:15.0px;width:85px"><span>Croacia</span></div>
<div class="cf" style="left:127.60px;top:154.50px;width:20.30px;height:15.0px;background:#f8cbad"></div>
<div class="ckw" style="left:131.80px;top:157.20px"><svg class="ck" viewBox="0 0 9 8" width="9" height="8"><path d="M0.2,4.3 L1.3,3.5 L2.7,5.6 C4.2,3.4 6.2,1.4 8.8,0 C6.6,2.2 4.4,5.2 2.9,8 Z" fill="#e8151b"/></svg></div>
<div class="cf" style="left:147.90px;top:154.50px;width:20.30px;height:15.0px;background:#fff2cc"></div>
<div class="ckw" style="left:152.10px;top:157.20px"><svg class="ck" viewBox="0 0 9 8" width="9" height="8"><path d="M0.2,4.3 L1.3,3.5 L2.7,5.6 C4.2,3.4 6.2,1.4 8.8,0 C6.6,2.2 4.4,5.2 2.9,8 Z" fill="#e8151b"/></svg></div>
<div class="cf" style="left:188.50px;top:154.50px;width:20.30px;height:15.0px;background:#b4c7e7"></div>
<div class="ckw" style="left:192.70px;top:157.20px"><svg class="ck" viewBox="0 0 9 8" width="9" height="8"><path d="M0.2,4.3 L1.3,3.5 L2.7,5.6 C4.2,3.4 6.2,1.4 8.8,0 C6.6,2.2 4.4,5.2 2.9,8 Z" fill="#e8151b"/></svg></div>
<div class="rn nar" style="left:1px;top:154.50px;height:15.0px;width:85px"><span>Chipre</span></div>
<div class="cf" style="left:107.30px;top:169.50px;width:20.30px;height:15.0px;background:#bdd7ee"></div>
<div class="ckw" style="left:111.50px;top:172.20px"><svg class="ck" viewBox="0 0 9 8" width="9" height="8"><path d="M0.2,4.3 L1.3,3.5 L2.7,5.6 C4.2,3.4 6.2,1.4 8.8,0 C6.6,2.2 4.4,5.2 2.9,8 Z" fill="#e8151b"/></svg></div>
<div class="rn " style="left:1px;top:169.50px;height:15.0px;width:85px"><span>Dinamarca</span></div>
<div class="cf" style="left:127.60px;top:184.50px;width:20.30px;height:15.0px;background:#f8cbad"></div>
<div class="ckw" style="left:131.80px;top:187.20px"><svg class="ck" viewBox="0 0 9 8" width="9" height="8"><path d="M0.2,4.3 L1.3,3.5 L2.7,5.6 C4.2,3.4 6.2,1.4 8.8,0 C6.6,2.2 4.4,5.2 2.9,8 Z" fill="#e8151b"/></svg></div>
<div class="rn " style="left:1px;top:184.50px;height:15.0px;width:85px"><span>Eslovenia</span></div>
<div class="cf" style="left:0;top:199.50px;width:87px;height:15.0px;background:#e7e6e6"></div>
<div class="cf" style="left:87.00px;top:199.50px;width:20.30px;height:15.0px;background:#ffff00"></div>
<div class="ckw" style="left:91.20px;top:202.20px"><svg class="ck" viewBox="0 0 9 8" width="9" height="8"><path d="M0.2,4.3 L1.3,3.5 L2.7,5.6 C4.2,3.4 6.2,1.4 8.8,0 C6.6,2.2 4.4,5.2 2.9,8 Z" fill="#e8151b"/></svg></div>
<div class="cf" style="left:107.30px;top:199.50px;width:20.30px;height:15.0px;background:#bdd7ee"></div>
<div class="ckw" style="left:111.50px;top:202.20px"><svg class="ck" viewBox="0 0 9 8" width="9" height="8"><path d="M0.2,4.3 L1.3,3.5 L2.7,5.6 C4.2,3.4 6.2,1.4 8.8,0 C6.6,2.2 4.4,5.2 2.9,8 Z" fill="#e8151b"/></svg></div>
<div class="cf" style="left:127.60px;top:199.50px;width:20.30px;height:15.0px;background:#f8cbad"></div>
<div class="ckw" style="left:131.80px;top:202.20px"><svg class="ck" viewBox="0 0 9 8" width="9" height="8"><path d="M0.2,4.3 L1.3,3.5 L2.7,5.6 C4.2,3.4 6.2,1.4 8.8,0 C6.6,2.2 4.4,5.2 2.9,8 Z" fill="#e8151b"/></svg></div>
<div class="cf" style="left:147.90px;top:199.50px;width:20.30px;height:15.0px;background:#fff2cc"></div>
<div class="ckw" style="left:152.10px;top:202.20px"><svg class="ck" viewBox="0 0 9 8" width="9" height="8"><path d="M0.2,4.3 L1.3,3.5 L2.7,5.6 C4.2,3.4 6.2,1.4 8.8,0 C6.6,2.2 4.4,5.2 2.9,8 Z" fill="#e8151b"/></svg></div>
<div class="rn esp" style="left:1px;top:199.50px;height:15.0px;width:85px"><span>ESPAÑA</span></div>
<div class="cf" style="left:107.30px;top:214.50px;width:20.30px;height:15.0px;background:#bdd7ee"></div>
<div class="ckw" style="left:111.50px;top:217.20px"><svg class="ck" viewBox="0 0 9 8" width="9" height="8"><path d="M0.2,4.3 L1.3,3.5 L2.7,5.6 C4.2,3.4 6.2,1.4 8.8,0 C6.6,2.2 4.4,5.2 2.9,8 Z" fill="#e8151b"/></svg></div>
<div class="cf" style="left:127.60px;top:214.50px;width:20.30px;height:15.0px;background:#f8cbad"></div>
<div class="ckw" style="left:131.80px;top:217.20px"><svg class="ck" viewBox="0 0 9 8" width="9" height="8"><path d="M0.2,4.3 L1.3,3.5 L2.7,5.6 C4.2,3.4 6.2,1.4 8.8,0 C6.6,2.2 4.4,5.2 2.9,8 Z" fill="#e8151b"/></svg></div>
<div class="cf" style="left:147.90px;top:214.50px;width:20.30px;height:15.0px;background:#fff2cc"></div>
<div class="ckw" style="left:152.10px;top:217.20px"><svg class="ck" viewBox="0 0 9 8" width="9" height="8"><path d="M0.2,4.3 L1.3,3.5 L2.7,5.6 C4.2,3.4 6.2,1.4 8.8,0 C6.6,2.2 4.4,5.2 2.9,8 Z" fill="#e8151b"/></svg></div>
<div class="rn " style="left:1px;top:214.50px;height:15.0px;width:85px"><span>Francia</span></div>
<div class="cf" style="left:107.30px;top:229.50px;width:20.30px;height:15.0px;background:#bdd7ee"></div>
<div class="ckw" style="left:111.50px;top:232.20px"><svg class="ck" viewBox="0 0 9 8" width="9" height="8"><path d="M0.2,4.3 L1.3,3.5 L2.7,5.6 C4.2,3.4 6.2,1.4 8.8,0 C6.6,2.2 4.4,5.2 2.9,8 Z" fill="#e8151b"/></svg></div>
<div class="cf" style="left:127.60px;top:229.50px;width:20.30px;height:15.0px;background:#f8cbad"></div>
<div class="ckw" style="left:131.80px;top:232.20px"><svg class="ck" viewBox="0 0 9 8" width="9" height="8"><path d="M0.2,4.3 L1.3,3.5 L2.7,5.6 C4.2,3.4 6.2,1.4 8.8,0 C6.6,2.2 4.4,5.2 2.9,8 Z" fill="#e8151b"/></svg></div>
<div class="cf" style="left:147.90px;top:229.50px;width:20.30px;height:15.0px;background:#fff2cc"></div>
<div class="ckw" style="left:152.10px;top:232.20px"><svg class="ck" viewBox="0 0 9 8" width="9" height="8"><path d="M0.2,4.3 L1.3,3.5 L2.7,5.6 C4.2,3.4 6.2,1.4 8.8,0 C6.6,2.2 4.4,5.2 2.9,8 Z" fill="#e8151b"/></svg></div>
<div class="cf" style="left:188.50px;top:229.50px;width:20.30px;height:15.0px;background:#b4c7e7"></div>
<div class="ckw" style="left:192.70px;top:232.20px"><svg class="ck" viewBox="0 0 9 8" width="9" height="8"><path d="M0.2,4.3 L1.3,3.5 L2.7,5.6 C4.2,3.4 6.2,1.4 8.8,0 C6.6,2.2 4.4,5.2 2.9,8 Z" fill="#e8151b"/></svg></div>
<div class="rn " style="left:1px;top:229.50px;height:15.0px;width:85px"><span>Grecia</span></div>
<div class="cf" style="left:127.60px;top:244.50px;width:20.30px;height:15.0px;background:#f8cbad"></div>
<div class="ckw" style="left:131.80px;top:247.20px"><svg class="ck" viewBox="0 0 9 8" width="9" height="8"><path d="M0.2,4.3 L1.3,3.5 L2.7,5.6 C4.2,3.4 6.2,1.4 8.8,0 C6.6,2.2 4.4,5.2 2.9,8 Z" fill="#e8151b"/></svg></div>
<div class="rn " style="left:1px;top:244.50px;height:15.0px;width:85px"><span>Hungría</span></div>
<div class="cf" style="left:87.00px;top:259.50px;width:20.30px;height:15.0px;background:#ffff00"></div>
<div class="ckw" style="left:91.20px;top:262.20px"><svg class="ck" viewBox="0 0 9 8" width="9" height="8"><path d="M0.2,4.3 L1.3,3.5 L2.7,5.6 C4.2,3.4 6.2,1.4 8.8,0 C6.6,2.2 4.4,5.2 2.9,8 Z" fill="#e8151b"/></svg></div>
<div class="cf" style="left:107.30px;top:259.50px;width:20.30px;height:15.0px;background:#bdd7ee"></div>
<div class="ckw" style="left:111.50px;top:262.20px"><svg class="ck" viewBox="0 0 9 8" width="9" height="8"><path d="M0.2,4.3 L1.3,3.5 L2.7,5.6 C4.2,3.4 6.2,1.4 8.8,0 C6.6,2.2 4.4,5.2 2.9,8 Z" fill="#e8151b"/></svg></div>
<div class="cf" style="left:127.60px;top:259.50px;width:20.30px;height:15.0px;background:#f8cbad"></div>
<div class="ckw" style="left:131.80px;top:262.20px"><svg class="ck" viewBox="0 0 9 8" width="9" height="8"><path d="M0.2,4.3 L1.3,3.5 L2.7,5.6 C4.2,3.4 6.2,1.4 8.8,0 C6.6,2.2 4.4,5.2 2.9,8 Z" fill="#e8151b"/></svg></div>
<div class="cf" style="left:147.90px;top:259.50px;width:20.30px;height:15.0px;background:#fff2cc"></div>
<div class="ckw" style="left:152.10px;top:262.20px"><svg class="ck" viewBox="0 0 9 8" width="9" height="8"><path d="M0.2,4.3 L1.3,3.5 L2.7,5.6 C4.2,3.4 6.2,1.4 8.8,0 C6.6,2.2 4.4,5.2 2.9,8 Z" fill="#e8151b"/></svg></div>
<div class="rn " style="left:1px;top:259.50px;height:15.0px;width:85px"><span>Italia</span></div>
<div class="cf" style="left:107.30px;top:274.50px;width:20.30px;height:15.0px;background:#bdd7ee"></div>
<div class="ckw" style="left:111.50px;top:277.20px"><svg class="ck" viewBox="0 0 9 8" width="9" height="8"><path d="M0.2,4.3 L1.3,3.5 L2.7,5.6 C4.2,3.4 6.2,1.4 8.8,0 C6.6,2.2 4.4,5.2 2.9,8 Z" fill="#e8151b"/></svg></div>
<div class="rn " style="left:1px;top:274.50px;height:15.0px;width:85px"><span>Liechtenstein</span></div>
<div class="cf" style="left:107.30px;top:289.50px;width:20.30px;height:15.0px;background:#bdd7ee"></div>
<div class="ckw" style="left:111.50px;top:292.20px"><svg class="ck" viewBox="0 0 9 8" width="9" height="8"><path d="M0.2,4.3 L1.3,3.5 L2.7,5.6 C4.2,3.4 6.2,1.4 8.8,0 C6.6,2.2 4.4,5.2 2.9,8 Z" fill="#e8151b"/></svg></div>
<div class="cf" style="left:147.90px;top:289.50px;width:20.30px;height:15.0px;background:#fff2cc"></div>
<div class="ckw" style="left:152.10px;top:292.20px"><svg class="ck" viewBox="0 0 9 8" width="9" height="8"><path d="M0.2,4.3 L1.3,3.5 L2.7,5.6 C4.2,3.4 6.2,1.4 8.8,0 C6.6,2.2 4.4,5.2 2.9,8 Z" fill="#e8151b"/></svg></div>
<div class="rn " style="left:1px;top:289.50px;height:15.0px;width:85px"><span>Luxemburgo</span></div>
<div class="cf" style="left:127.60px;top:304.50px;width:20.30px;height:22.5px;background:#f8cbad"></div>
<div class="ckw" style="left:131.80px;top:314.70px"><svg class="ck" viewBox="0 0 9 8" width="9" height="8"><path d="M0.2,4.3 L1.3,3.5 L2.7,5.6 C4.2,3.4 6.2,1.4 8.8,0 C6.6,2.2 4.4,5.2 2.9,8 Z" fill="#e8151b"/></svg></div>
<div class="cf" style="left:147.90px;top:304.50px;width:20.30px;height:22.5px;background:#fff2cc"></div>
<div class="ckw" style="left:152.10px;top:314.70px"><svg class="ck" viewBox="0 0 9 8" width="9" height="8"><path d="M0.2,4.3 L1.3,3.5 L2.7,5.6 C4.2,3.4 6.2,1.4 8.8,0 C6.6,2.2 4.4,5.2 2.9,8 Z" fill="#e8151b"/></svg></div>
<div class="rn dbl" style="left:1px;top:304.50px;height:22.5px;width:85px"><span>Macedonia del<br>Norte</span></div>
<div class="cf" style="left:127.60px;top:327.00px;width:20.30px;height:15.0px;background:#f8cbad"></div>
<div class="ckw" style="left:131.80px;top:329.70px"><svg class="ck" viewBox="0 0 9 8" width="9" height="8"><path d="M0.2,4.3 L1.3,3.5 L2.7,5.6 C4.2,3.4 6.2,1.4 8.8,0 C6.6,2.2 4.4,5.2 2.9,8 Z" fill="#e8151b"/></svg></div>
<div class="rn " style="left:1px;top:327.00px;height:15.0px;width:85px"><span>Montenegro</span></div>
<div class="cf" style="left:107.30px;top:342.00px;width:20.30px;height:15.0px;background:#bdd7ee"></div>
<div class="ckw" style="left:111.50px;top:344.70px"><svg class="ck" viewBox="0 0 9 8" width="9" height="8"><path d="M0.2,4.3 L1.3,3.5 L2.7,5.6 C4.2,3.4 6.2,1.4 8.8,0 C6.6,2.2 4.4,5.2 2.9,8 Z" fill="#e8151b"/></svg></div>
<div class="rn " style="left:1px;top:342.00px;height:15.0px;width:85px"><span>Noruega</span></div>
<div class="cf" style="left:107.30px;top:357.00px;width:20.30px;height:15.0px;background:#bdd7ee"></div>
<div class="ckw" style="left:111.50px;top:359.70px"><svg class="ck" viewBox="0 0 9 8" width="9" height="8"><path d="M0.2,4.3 L1.3,3.5 L2.7,5.6 C4.2,3.4 6.2,1.4 8.8,0 C6.6,2.2 4.4,5.2 2.9,8 Z" fill="#e8151b"/></svg></div>
<div class="cf" style="left:168.20px;top:357.00px;width:20.30px;height:15.0px;background:#efefef"></div>
<div class="ckw" style="left:172.40px;top:359.70px"><svg class="ck" viewBox="0 0 9 8" width="9" height="8"><path d="M0.2,4.3 L1.3,3.5 L2.7,5.6 C4.2,3.4 6.2,1.4 8.8,0 C6.6,2.2 4.4,5.2 2.9,8 Z" fill="#e8151b"/></svg></div>
<div class="rn " style="left:1px;top:357.00px;height:15.0px;width:85px"><span>Países Bajos</span></div>
<div class="cf" style="left:107.30px;top:372.00px;width:20.30px;height:15.0px;background:#bdd7ee"></div>
<div class="ckw" style="left:111.50px;top:374.70px"><svg class="ck" viewBox="0 0 9 8" width="9" height="8"><path d="M0.2,4.3 L1.3,3.5 L2.7,5.6 C4.2,3.4 6.2,1.4 8.8,0 C6.6,2.2 4.4,5.2 2.9,8 Z" fill="#e8151b"/></svg></div>
<div class="rn " style="left:1px;top:372.00px;height:15.0px;width:85px"><span>Polonia</span></div>
<div class="cf" style="left:87.00px;top:387.00px;width:20.30px;height:15.0px;background:#ffff00"></div>
<div class="ckw" style="left:91.20px;top:389.70px"><svg class="ck" viewBox="0 0 9 8" width="9" height="8"><path d="M0.2,4.3 L1.3,3.5 L2.7,5.6 C4.2,3.4 6.2,1.4 8.8,0 C6.6,2.2 4.4,5.2 2.9,8 Z" fill="#e8151b"/></svg></div>
<div class="cf" style="left:107.30px;top:387.00px;width:20.30px;height:15.0px;background:#bdd7ee"></div>
<div class="ckw" style="left:111.50px;top:389.70px"><svg class="ck" viewBox="0 0 9 8" width="9" height="8"><path d="M0.2,4.3 L1.3,3.5 L2.7,5.6 C4.2,3.4 6.2,1.4 8.8,0 C6.6,2.2 4.4,5.2 2.9,8 Z" fill="#e8151b"/></svg></div>
<div class="cf" style="left:127.60px;top:387.00px;width:20.30px;height:15.0px;background:#f8cbad"></div>
<div class="ckw" style="left:131.80px;top:389.70px"><svg class="ck" viewBox="0 0 9 8" width="9" height="8"><path d="M0.2,4.3 L1.3,3.5 L2.7,5.6 C4.2,3.4 6.2,1.4 8.8,0 C6.6,2.2 4.4,5.2 2.9,8 Z" fill="#e8151b"/></svg></div>
<div class="cf" style="left:147.90px;top:387.00px;width:20.30px;height:15.0px;background:#fff2cc"></div>
<div class="ckw" style="left:152.10px;top:389.70px"><svg class="ck" viewBox="0 0 9 8" width="9" height="8"><path d="M0.2,4.3 L1.3,3.5 L2.7,5.6 C4.2,3.4 6.2,1.4 8.8,0 C6.6,2.2 4.4,5.2 2.9,8 Z" fill="#e8151b"/></svg></div>
<div class="rn " style="left:1px;top:387.00px;height:15.0px;width:85px"><span>Portugal</span></div>
<div class="cf" style="left:107.30px;top:402.00px;width:20.30px;height:15.0px;background:#bdd7ee"></div>
<div class="ckw" style="left:111.50px;top:404.70px"><svg class="ck" viewBox="0 0 9 8" width="9" height="8"><path d="M0.2,4.3 L1.3,3.5 L2.7,5.6 C4.2,3.4 6.2,1.4 8.8,0 C6.6,2.2 4.4,5.2 2.9,8 Z" fill="#e8151b"/></svg></div>
<div class="cf" style="left:168.20px;top:402.00px;width:20.30px;height:15.0px;background:#efefef"></div>
<div class="ckw" style="left:172.40px;top:404.70px"><svg class="ck" viewBox="0 0 9 8" width="9" height="8"><path d="M0.2,4.3 L1.3,3.5 L2.7,5.6 C4.2,3.4 6.2,1.4 8.8,0 C6.6,2.2 4.4,5.2 2.9,8 Z" fill="#e8151b"/></svg></div>
<div class="rn " style="left:1px;top:402.00px;height:15.0px;width:85px"><span>Reino Unido</span></div>
<div class="cf" style="left:127.60px;top:417.00px;width:20.30px;height:15.0px;background:#f8cbad"></div>
<div class="ckw" style="left:131.80px;top:419.70px"><svg class="ck" viewBox="0 0 9 8" width="9" height="8"><path d="M0.2,4.3 L1.3,3.5 L2.7,5.6 C4.2,3.4 6.2,1.4 8.8,0 C6.6,2.2 4.4,5.2 2.9,8 Z" fill="#e8151b"/></svg></div>
<div class="rn " style="left:1px;top:417.00px;height:15.0px;width:85px"><span>Rumania</span></div>
<div class="cf" style="left:127.60px;top:432.00px;width:20.30px;height:15.0px;background:#f8cbad"></div>
<div class="ckw" style="left:131.80px;top:434.70px"><svg class="ck" viewBox="0 0 9 8" width="9" height="8"><path d="M0.2,4.3 L1.3,3.5 L2.7,5.6 C4.2,3.4 6.2,1.4 8.8,0 C6.6,2.2 4.4,5.2 2.9,8 Z" fill="#e8151b"/></svg></div>
<div class="rn " style="left:1px;top:432.00px;height:15.0px;width:85px"><span>Serbia</span></div>
<div class="cf" style="left:107.30px;top:447.00px;width:20.30px;height:15.0px;background:#bdd7ee"></div>
<div class="ckw" style="left:111.50px;top:449.70px"><svg class="ck" viewBox="0 0 9 8" width="9" height="8"><path d="M0.2,4.3 L1.3,3.5 L2.7,5.6 C4.2,3.4 6.2,1.4 8.8,0 C6.6,2.2 4.4,5.2 2.9,8 Z" fill="#e8151b"/></svg></div>
<div class="rn " style="left:1px;top:447.00px;height:15.0px;width:85px"><span>Suecia</span></div>
<div class="cf" style="left:107.30px;top:462.00px;width:20.30px;height:15.0px;background:#bdd7ee"></div>
<div class="ckw" style="left:111.50px;top:464.70px"><svg class="ck" viewBox="0 0 9 8" width="9" height="8"><path d="M0.2,4.3 L1.3,3.5 L2.7,5.6 C4.2,3.4 6.2,1.4 8.8,0 C6.6,2.2 4.4,5.2 2.9,8 Z" fill="#e8151b"/></svg></div>
<div class="cf" style="left:147.90px;top:462.00px;width:20.30px;height:15.0px;background:#fff2cc"></div>
<div class="ckw" style="left:152.10px;top:464.70px"><svg class="ck" viewBox="0 0 9 8" width="9" height="8"><path d="M0.2,4.3 L1.3,3.5 L2.7,5.6 C4.2,3.4 6.2,1.4 8.8,0 C6.6,2.2 4.4,5.2 2.9,8 Z" fill="#e8151b"/></svg></div>
<div class="rn " style="left:1px;top:462.00px;height:15.0px;width:85px"><span>Suiza</span></div>
<div class="hl" style="top:-0.6px;height:1.4px"></div>
<div class="hl" style="top:11.50px"></div>
<div class="hl" style="top:26.50px"></div>
<div class="hl" style="top:41.50px"></div>
<div class="hl" style="top:56.50px"></div>
<div class="hl" style="top:71.50px"></div>
<div class="hl" style="top:86.50px"></div>
<div class="hl" style="top:109.00px"></div>
<div class="hl" style="top:124.00px"></div>
<div class="hl" style="top:139.00px"></div>
<div class="hl" style="top:154.00px"></div>
<div class="hl" style="top:169.00px"></div>
<div class="hl" style="top:184.00px"></div>
<div class="hl" style="top:199.00px"></div>
<div class="hl" style="top:214.00px"></div>
<div class="hl" style="top:229.00px"></div>
<div class="hl" style="top:244.00px"></div>
<div class="hl" style="top:259.00px"></div>
<div class="hl" style="top:274.00px"></div>
<div class="hl" style="top:289.00px"></div>
<div class="hl" style="top:304.00px"></div>
<div class="hl" style="top:326.50px"></div>
<div class="hl" style="top:341.50px"></div>
<div class="hl" style="top:356.50px"></div>
<div class="hl" style="top:371.50px"></div>
<div class="hl" style="top:386.50px"></div>
<div class="hl" style="top:401.50px"></div>
<div class="hl" style="top:416.50px"></div>
<div class="hl" style="top:431.50px"></div>
<div class="hl" style="top:446.50px"></div>
<div class="hl" style="top:461.50px"></div>
<div class="hl" style="top:476.50px"></div>
<div class="vl" style="left:86.50px;top:12px;height:465.0px"></div>
<div class="vl" style="left:106.80px;top:12px;height:465.0px"></div>
<div class="vl" style="left:127.10px;top:12px;height:465.0px"></div>
<div class="vl" style="left:147.40px;top:12px;height:465.0px"></div>
<div class="vl" style="left:167.70px;top:12px;height:465.0px"></div>
<div class="vl" style="left:188.00px;top:12px;height:465.0px"></div>
<div class="vl" style="left:208.30px;top:12px;height:465.0px"></div>
</div>
<div class="tb" style="left:744.8px;top:115.2px;width:207.94px;height:57.2px">
<div class="hc" style="left:79.00px;top:0;width:18.42px;height:12.2px;background:#f8cbad">4</div>
<div class="hc" style="left:97.42px;top:0;width:18.42px;height:12.2px;background:#cfcfcf">5</div>
<div class="hc" style="left:115.84px;top:0;width:18.42px;height:12.2px;background:#fff2cc">8</div>
<div class="hc" style="left:134.26px;top:0;width:18.42px;height:12.2px;background:#efefef">12</div>
<div class="hc" style="left:152.68px;top:0;width:18.42px;height:12.2px;background:#00e676">15</div>
<div class="hc" style="left:171.10px;top:0;width:18.42px;height:12.2px;background:#b4c7e7">16</div>
<div class="hc" style="left:189.52px;top:0;width:18.42px;height:12.2px;background:#ffccff">24</div>
<div class="hn" style="left:1px;top:0;height:12.2px;line-height:14.2px">País</div>
<div class="cf" style="left:79.00px;top:12.20px;width:18.42px;height:15.0px;background:#f8cbad"></div>
<div class="ckw" style="left:83.20px;top:14.90px"><svg class="ck" viewBox="0 0 9 8" width="9" height="8"><path d="M0.2,4.3 L1.3,3.5 L2.7,5.6 C4.2,3.4 6.2,1.4 8.8,0 C6.6,2.2 4.4,5.2 2.9,8 Z" fill="#e8151b"/></svg></div>
<div class="cf" style="left:115.84px;top:12.20px;width:18.42px;height:15.0px;background:#fff2cc"></div>
<div class="ckw" style="left:120.04px;top:14.90px"><svg class="ck" viewBox="0 0 9 8" width="9" height="8"><path d="M0.2,4.3 L1.3,3.5 L2.7,5.6 C4.2,3.4 6.2,1.4 8.8,0 C6.6,2.2 4.4,5.2 2.9,8 Z" fill="#e8151b"/></svg></div>
<div class="rn " style="left:1px;top:12.20px;height:15.0px;width:77.0px"><span>Palestina</span></div>
<div class="cf" style="left:79.00px;top:27.20px;width:18.42px;height:15.0px;background:#f8cbad"></div>
<div class="ckw" style="left:83.20px;top:29.90px"><svg class="ck" viewBox="0 0 9 8" width="9" height="8"><path d="M0.2,4.3 L1.3,3.5 L2.7,5.6 C4.2,3.4 6.2,1.4 8.8,0 C6.6,2.2 4.4,5.2 2.9,8 Z" fill="#e8151b"/></svg></div>
<div class="cf" style="left:97.42px;top:27.20px;width:18.42px;height:15.0px;background:#cfcfcf"></div>
<div class="ckw" style="left:101.62px;top:29.90px"><svg class="ck" viewBox="0 0 9 8" width="9" height="8"><path d="M0.2,4.3 L1.3,3.5 L2.7,5.6 C4.2,3.4 6.2,1.4 8.8,0 C6.6,2.2 4.4,5.2 2.9,8 Z" fill="#e8151b"/></svg></div>
<div class="cf" style="left:115.84px;top:27.20px;width:18.42px;height:15.0px;background:#fff2cc"></div>
<div class="ckw" style="left:120.04px;top:29.90px"><svg class="ck" viewBox="0 0 9 8" width="9" height="8"><path d="M0.2,4.3 L1.3,3.5 L2.7,5.6 C4.2,3.4 6.2,1.4 8.8,0 C6.6,2.2 4.4,5.2 2.9,8 Z" fill="#e8151b"/></svg></div>
<div class="cf" style="left:134.26px;top:27.20px;width:18.42px;height:15.0px;background:#efefef"></div>
<div class="ckw" style="left:138.46px;top:29.90px"><svg class="ck" viewBox="0 0 9 8" width="9" height="8"><path d="M0.2,4.3 L1.3,3.5 L2.7,5.6 C4.2,3.4 6.2,1.4 8.8,0 C6.6,2.2 4.4,5.2 2.9,8 Z" fill="#e8151b"/></svg></div>
<div class="cf" style="left:152.68px;top:27.20px;width:18.42px;height:15.0px;background:#00e676"></div>
<div class="ckw" style="left:156.88px;top:29.90px"><svg class="ck" viewBox="0 0 9 8" width="9" height="8"><path d="M0.2,4.3 L1.3,3.5 L2.7,5.6 C4.2,3.4 6.2,1.4 8.8,0 C6.6,2.2 4.4,5.2 2.9,8 Z" fill="#e8151b"/></svg></div>
<div class="cf" style="left:171.10px;top:27.20px;width:18.42px;height:15.0px;background:#b4c7e7"></div>
<div class="ckw" style="left:175.30px;top:29.90px"><svg class="ck" viewBox="0 0 9 8" width="9" height="8"><path d="M0.2,4.3 L1.3,3.5 L2.7,5.6 C4.2,3.4 6.2,1.4 8.8,0 C6.6,2.2 4.4,5.2 2.9,8 Z" fill="#e8151b"/></svg></div>
<div class="cf" style="left:189.52px;top:27.20px;width:18.42px;height:15.0px;background:#ffccff"></div>
<div class="ckw" style="left:193.72px;top:29.90px"><svg class="ck" viewBox="0 0 9 8" width="9" height="8"><path d="M0.2,4.3 L1.3,3.5 L2.7,5.6 C4.2,3.4 6.2,1.4 8.8,0 C6.6,2.2 4.4,5.2 2.9,8 Z" fill="#e8151b"/></svg></div>
<div class="rn " style="left:1px;top:27.20px;height:15.0px;width:77.0px"><span>Israel</span></div>
<div class="cf" style="left:79.00px;top:42.20px;width:18.42px;height:15.0px;background:#f8cbad"></div>
<div class="ckw" style="left:83.20px;top:44.90px"><svg class="ck" viewBox="0 0 9 8" width="9" height="8"><path d="M0.2,4.3 L1.3,3.5 L2.7,5.6 C4.2,3.4 6.2,1.4 8.8,0 C6.6,2.2 4.4,5.2 2.9,8 Z" fill="#e8151b"/></svg></div>
<div class="cf" style="left:115.84px;top:42.20px;width:18.42px;height:15.0px;background:#fff2cc"></div>
<div class="ckw" style="left:120.04px;top:44.90px"><svg class="ck" viewBox="0 0 9 8" width="9" height="8"><path d="M0.2,4.3 L1.3,3.5 L2.7,5.6 C4.2,3.4 6.2,1.4 8.8,0 C6.6,2.2 4.4,5.2 2.9,8 Z" fill="#e8151b"/></svg></div>
<div class="cf" style="left:171.10px;top:42.20px;width:18.42px;height:15.0px;background:#b4c7e7"></div>
<div class="ckw" style="left:175.30px;top:44.90px"><svg class="ck" viewBox="0 0 9 8" width="9" height="8"><path d="M0.2,4.3 L1.3,3.5 L2.7,5.6 C4.2,3.4 6.2,1.4 8.8,0 C6.6,2.2 4.4,5.2 2.9,8 Z" fill="#e8151b"/></svg></div>
<div class="rn " style="left:1px;top:42.20px;height:15.0px;width:77.0px"><span>Turquía</span></div>
<div class="hl" style="top:-0.6px;height:1.4px"></div>
<div class="hl" style="top:11.70px"></div>
<div class="hl" style="top:26.70px"></div>
<div class="hl" style="top:41.70px"></div>
<div class="hl" style="top:56.70px"></div>
<div class="vl" style="left:78.50px;top:12.2px;height:45.0px"></div>
<div class="vl" style="left:96.92px;top:12.2px;height:45.0px"></div>
<div class="vl" style="left:115.34px;top:12.2px;height:45.0px"></div>
<div class="vl" style="left:133.76px;top:12.2px;height:45.0px"></div>
<div class="vl" style="left:152.18px;top:12.2px;height:45.0px"></div>
<div class="vl" style="left:170.60px;top:12.2px;height:45.0px"></div>
<div class="vl" style="left:189.02px;top:12.2px;height:45.0px"></div>
<div class="vl" style="left:207.44px;top:12.2px;height:45.0px"></div>
</div>
<div class="tb" style="left:744.8px;top:181.7px;width:152.68px;height:72.1px">
<div class="hc" style="left:79.00px;top:0;width:18.42px;height:12.3px;background:#ffff00">1</div>
<div class="hc" style="left:97.42px;top:0;width:18.42px;height:12.3px;background:#9999ff">2</div>
<div class="hc" style="left:115.84px;top:0;width:18.42px;height:12.3px;background:#bdd7ee">3</div>
<div class="hc" style="left:134.26px;top:0;width:18.42px;height:12.3px;background:#f8cbad">4</div>
<div class="hn" style="left:1px;top:0;height:12.3px;line-height:14.3px">País</div>
<div class="cf" style="left:79.00px;top:12.30px;width:18.42px;height:14.95px;background:#ffff00"></div>
<div class="ckw" style="left:83.20px;top:14.95px"><svg class="ck" viewBox="0 0 9 8" width="9" height="8"><path d="M0.2,4.3 L1.3,3.5 L2.7,5.6 C4.2,3.4 6.2,1.4 8.8,0 C6.6,2.2 4.4,5.2 2.9,8 Z" fill="#e8151b"/></svg></div>
<div class="cf" style="left:134.26px;top:12.30px;width:18.42px;height:14.95px;background:#f8cbad"></div>
<div class="ckw" style="left:138.46px;top:14.95px"><svg class="ck" viewBox="0 0 9 8" width="9" height="8"><path d="M0.2,4.3 L1.3,3.5 L2.7,5.6 C4.2,3.4 6.2,1.4 8.8,0 C6.6,2.2 4.4,5.2 2.9,8 Z" fill="#e8151b"/></svg></div>
<div class="rn nar" style="left:1px;top:12.30px;height:14.95px;width:77.0px"><span>Argelia</span></div>
<div class="cf" style="left:134.26px;top:27.25px;width:18.42px;height:14.95px;background:#f8cbad"></div>
<div class="ckw" style="left:138.46px;top:29.90px"><svg class="ck" viewBox="0 0 9 8" width="9" height="8"><path d="M0.2,4.3 L1.3,3.5 L2.7,5.6 C4.2,3.4 6.2,1.4 8.8,0 C6.6,2.2 4.4,5.2 2.9,8 Z" fill="#e8151b"/></svg></div>
<div class="rn nar" style="left:1px;top:27.25px;height:14.95px;width:77.0px"><span>Egipto</span></div>
<div class="cf" style="left:79.00px;top:42.20px;width:18.42px;height:14.95px;background:#ffff00"></div>
<div class="ckw" style="left:83.20px;top:44.85px"><svg class="ck" viewBox="0 0 9 8" width="9" height="8"><path d="M0.2,4.3 L1.3,3.5 L2.7,5.6 C4.2,3.4 6.2,1.4 8.8,0 C6.6,2.2 4.4,5.2 2.9,8 Z" fill="#e8151b"/></svg></div>
<div class="cf" style="left:134.26px;top:42.20px;width:18.42px;height:14.95px;background:#f8cbad"></div>
<div class="ckw" style="left:138.46px;top:44.85px"><svg class="ck" viewBox="0 0 9 8" width="9" height="8"><path d="M0.2,4.3 L1.3,3.5 L2.7,5.6 C4.2,3.4 6.2,1.4 8.8,0 C6.6,2.2 4.4,5.2 2.9,8 Z" fill="#e8151b"/></svg></div>
<div class="rn nar" style="left:1px;top:42.20px;height:14.95px;width:77.0px"><span>Marruecos</span></div>
<div class="cf" style="left:79.00px;top:57.15px;width:18.42px;height:14.95px;background:#ffff00"></div>
<div class="ckw" style="left:83.20px;top:59.80px"><svg class="ck" viewBox="0 0 9 8" width="9" height="8"><path d="M0.2,4.3 L1.3,3.5 L2.7,5.6 C4.2,3.4 6.2,1.4 8.8,0 C6.6,2.2 4.4,5.2 2.9,8 Z" fill="#e8151b"/></svg></div>
<div class="cf" style="left:97.42px;top:57.15px;width:18.42px;height:14.95px;background:#9999ff"></div>
<div class="ckw" style="left:101.62px;top:59.80px"><svg class="ck" viewBox="0 0 9 8" width="9" height="8"><path d="M0.2,4.3 L1.3,3.5 L2.7,5.6 C4.2,3.4 6.2,1.4 8.8,0 C6.6,2.2 4.4,5.2 2.9,8 Z" fill="#e8151b"/></svg></div>
<div class="cf" style="left:115.84px;top:57.15px;width:18.42px;height:14.95px;background:#bdd7ee"></div>
<div class="ckw" style="left:120.04px;top:59.80px"><svg class="ck" viewBox="0 0 9 8" width="9" height="8"><path d="M0.2,4.3 L1.3,3.5 L2.7,5.6 C4.2,3.4 6.2,1.4 8.8,0 C6.6,2.2 4.4,5.2 2.9,8 Z" fill="#e8151b"/></svg></div>
<div class="cf" style="left:134.26px;top:57.15px;width:18.42px;height:14.95px;background:#f8cbad"></div>
<div class="ckw" style="left:138.46px;top:59.80px"><svg class="ck" viewBox="0 0 9 8" width="9" height="8"><path d="M0.2,4.3 L1.3,3.5 L2.7,5.6 C4.2,3.4 6.2,1.4 8.8,0 C6.6,2.2 4.4,5.2 2.9,8 Z" fill="#e8151b"/></svg></div>
<div class="rn nar" style="left:1px;top:57.15px;height:14.95px;width:77.0px"><span>Túnez</span></div>
<div class="hl" style="top:-0.6px;height:1.4px"></div>
<div class="hl" style="top:11.80px"></div>
<div class="hl" style="top:26.75px"></div>
<div class="hl" style="top:41.70px"></div>
<div class="hl" style="top:56.65px"></div>
<div class="hl" style="top:71.60px"></div>
<div class="vl" style="left:78.50px;top:12.3px;height:59.8px"></div>
<div class="vl" style="left:96.92px;top:12.3px;height:59.8px"></div>
<div class="vl" style="left:115.34px;top:12.3px;height:59.8px"></div>
<div class="vl" style="left:133.76px;top:12.3px;height:59.8px"></div>
<div class="vl" style="left:152.18px;top:12.3px;height:59.8px"></div>
</div>
</body></html>
